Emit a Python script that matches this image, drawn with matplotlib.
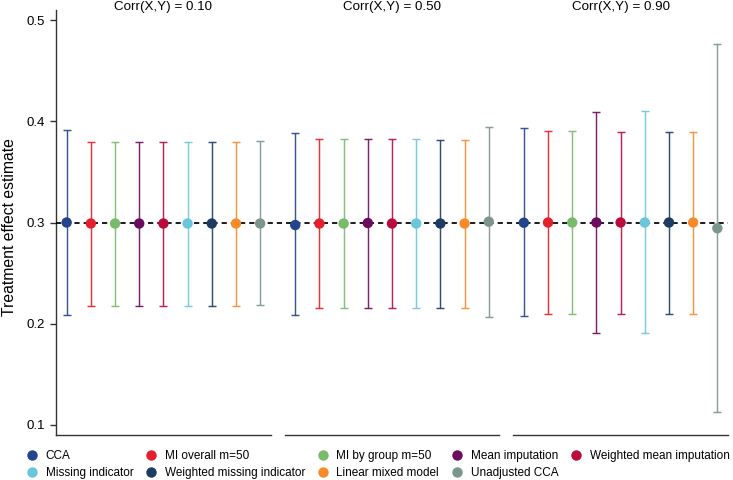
import numpy as np
import matplotlib
matplotlib.use("Agg")
import matplotlib.pyplot as plt
from matplotlib.lines import Line2D
import matplotlib.transforms as mtransforms

plt.rcParams['font.family'] = ['Liberation Sans', 'DejaVu Sans']

# methods, in plotting order
methods = ["CCA", "MI overall m=50", "MI by group m=50", "Mean imputation",
           "Weighted mean imputation", "Missing indicator",
           "Weighted missing indicator", "Linear mixed model", "Unadjusted CCA"]
colors = ["#23448a", "#e3202b", "#78bb6a", "#6b0c5e", "#bb0b3c",
          "#6ac6da", "#1d3c63", "#f78b2a", "#7c968d"]

corr_labels = ["Corr(X,Y) = 0.10", "Corr(X,Y) = 0.50", "Corr(X,Y) = 0.90"]

# point estimates and 95% interval limits per correlation
est_010 = [0.300, 0.299, 0.299, 0.299, 0.299, 0.299, 0.299, 0.299, 0.299]
lo_010 = [0.209, 0.2175, 0.2175, 0.2175, 0.2175, 0.2175, 0.2175, 0.2175, 0.218]
hi_010 = [0.391, 0.380, 0.380, 0.380, 0.380, 0.380, 0.380, 0.380, 0.381]

est_050 = [0.2975, 0.299, 0.299, 0.2995, 0.299, 0.299, 0.299, 0.299, 0.3008]
lo_050 = [0.2086, 0.216, 0.216, 0.216, 0.216, 0.216, 0.216, 0.216, 0.207]
hi_050 = [0.388, 0.3825, 0.3825, 0.383, 0.3825, 0.383, 0.382, 0.382, 0.3946]

est_090 = [0.2998, 0.300, 0.300, 0.300, 0.300, 0.300, 0.300, 0.300, 0.2943]
lo_090 = [0.2077, 0.2096, 0.2096, 0.1906, 0.2096, 0.1906, 0.2096, 0.2096, 0.1132]
hi_090 = [0.393, 0.3904, 0.3904, 0.4095, 0.3897, 0.4102, 0.3897, 0.3897, 0.4763]

groups = [(est_010, lo_010, hi_010), (est_050, lo_050, hi_050), (est_090, lo_090, hi_090)]
true_value = 0.3

W, H = 733, 480
fig = plt.figure(figsize=(W / 100, H / 100), dpi=100)
ax = fig.add_axes([56 / W, 1 - 435 / H, 672 / W, 425 / H])

gap = 9.45
pos = np.arange(1, len(methods) + 1)
trans = mtransforms.blended_transform_factory(ax.transData, ax.transAxes)
ftrans = mtransforms.blended_transform_factory(ax.transData, fig.transFigure)

for g, (est, lo, hi) in enumerate(groups):
    x = pos + g * gap
    for i in range(len(methods)):
        ax.errorbar(x[i], est[i], yerr=[[est[i] - lo[i]], [hi[i] - est[i]]],
                    fmt='none', ecolor=colors[i], elinewidth=1.05, capsize=3.2,
                    capthick=1.05, alpha=0.9, zorder=2)
    ax.scatter(x, est, s=56, c=colors, zorder=4, linewidths=0)
    # bottom line segment for this panel
    ax.plot([x[0] - 0.44, x[-1] + 0.44], [0, 0], color='#333333', lw=1.0,
            transform=trans, clip_on=False)
    ax.text((x[0] + x[-1]) / 2, 1 - 7 / H, corr_labels[g], transform=ftrans,
            ha='center', va='center', fontsize=9.6)

ax.axhline(true_value, color='black', ls=(0, (3, 2.3)), lw=1.25, zorder=3)

ax.set_xlim(1 - 0.44, 2 * gap + 9 + 0.44)
ax.set_ylim(0.09, 0.51)
ax.set_yticks([0.1, 0.2, 0.3, 0.4, 0.5])
ax.set_yticklabels(["0.1", "0.2", "0.3", "0.4", "0.5"])
ax.tick_params(axis='y', labelsize=9.5, length=4.5, width=1, color='#333333', pad=3.5)
ax.set_xticks([])
for s in ['top', 'right', 'bottom']:
    ax.spines[s].set_visible(False)
ax.spines['left'].set_color('#333333')
ax.spines['left'].set_linewidth(1.0)
ax.set_ylabel("Treatment effect estimate", fontsize=11.3)
ax.yaxis.set_label_coords(-0.058, 0.49)

# legend, row-major order rearranged for matplotlib's column filling
handles = [Line2D([], [], marker='o', ls='none', markersize=7.5, markerfacecolor=c,
                  markeredgewidth=0) for c in colors]
order = [0, 5, 1, 6, 2, 7, 3, 8, 4]
fig.legend([handles[i] for i in order], [methods[i] for i in order],
           ncol=5, loc='lower left', bbox_to_anchor=(21 / W, -4 / H), frameon=False,
           fontsize=8.5, handlelength=1.0, handletextpad=0.68, columnspacing=0.98,
           labelspacing=0.45, borderaxespad=0)

fig.savefig("out.png", dpi=100)
